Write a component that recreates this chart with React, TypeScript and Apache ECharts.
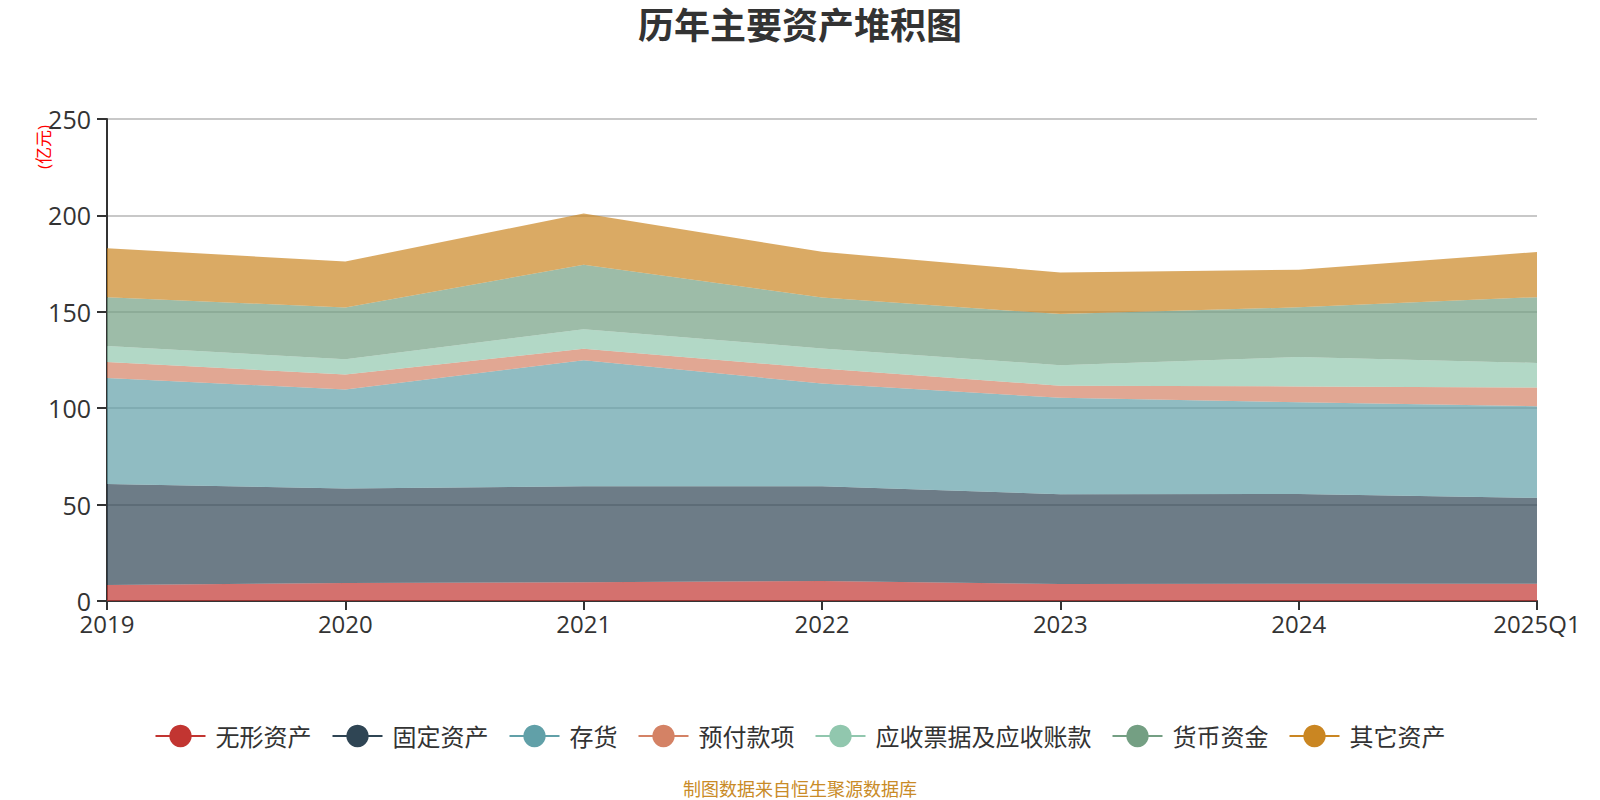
import React, { useEffect, useRef } from "react";
import * as echarts from "echarts";

const years = ["2019", "2020", "2021", "2022", "2023", "2024", "2025Q1"];
const intangible = [8.3, 9.3, 9.7, 10.4, 8.8, 9.0, 9.0];
const fixedAssets = [52.4, 49.0, 49.8, 49.1, 46.6, 46.5, 44.5];
const inventory = [55.0, 51.4, 65.4, 53.3, 50.0, 47.6, 47.5];
const prepayments = [8.3, 7.8, 5.9, 7.8, 6.2, 8.2, 9.7];
const receivables = [8.3, 7.9, 10.2, 10.4, 10.7, 15.2, 12.8];
const cash = [25.3, 26.8, 33.4, 26.4, 26.5, 25.8, 34.1];
const others = [25.4, 23.9, 26.6, 23.7, 21.6, 19.5, 23.4];

const seriesNames = ["无形资产", "固定资产", "存货", "预付款项", "应收票据及应收账款", "货币资金", "其它资产"];
const seriesData = [intangible, fixedAssets, inventory, prepayments, receivables, cash, others];
const colors = ["#c23531", "#2f4554", "#61a0a8", "#d48265", "#91c7ae", "#749f83", "#ca8622"];

const FONT = "'Open Sans', 'Noto Sans CJK SC', sans-serif";

export default function App() {
  const ref = useRef<HTMLDivElement>(null);
  useEffect(() => {
    document.body.style.margin = "0";
    if (!ref.current) return;
    const chart = echarts.init(ref.current, null, { renderer: "svg" });
    chart.setOption({
      animation: false,
      color: colors,
      textStyle: { fontFamily: FONT },
      title: {
        text: "历年主要资产堆积图",
        left: "center",
        top: 2,
        textStyle: { fontSize: 36, fontWeight: "bold", color: "#333", fontFamily: FONT },
      },
      grid: { left: 107, right: 63, top: 119, bottom: 199, containLabel: false },
      legend: {
        top: 719,
        left: "center",
        itemWidth: 50,
        itemHeight: 28,
        itemGap: 20,
        textStyle: { fontSize: 24, color: "#333", fontFamily: FONT, padding: [0, 0, 0, 5] },
        lineStyle: { width: 2, opacity: 1 },
        data: seriesNames,
      },
      xAxis: {
        type: "category",
        data: years,
        boundaryGap: false,
        axisLine: { lineStyle: { color: "#333", width: 2 } },
        axisTick: { show: true, length: 9, lineStyle: { color: "#333", width: 2 } },
        axisLabel: { fontSize: 24, color: "#333", margin: 10, fontFamily: FONT },
        splitLine: { show: false },
      },
      yAxis: {
        type: "value",
        min: 0,
        max: 250,
        interval: 50,
        axisLine: { show: true, lineStyle: { color: "#333", width: 2 } },
        axisTick: { show: true, length: 10, lineStyle: { color: "#333", width: 2 } },
        axisLabel: { fontSize: 25, color: "#333", margin: 16, fontFamily: FONT },
        splitLine: { show: true, lineStyle: { color: "#c8c8c8", width: 2 } },
      },
      graphic: [
        {
          type: "text",
          x: 35,
          y: 169,
          rotation: Math.PI / 2,
          style: { text: "(亿元)", fontSize: 17, fill: "#ff0000", fontFamily: FONT },
        },
        {
          type: "text",
          left: "center",
          top: 780,
          style: { text: "制图数据来自恒生聚源数据库", fontSize: 18, fill: "#c98b27", fontFamily: FONT },
        },
      ],
      series: seriesNames.map((name, i) => ({
        name,
        type: "line",
        stack: "total",
        data: seriesData[i],
        symbol: "circle",
        showSymbol: false,
        lineStyle: { width: 0 },
        areaStyle: { opacity: 0.7 },
      })),
    });
    return () => chart.dispose();
  }, []);
  return <div ref={ref} style={{ width: 1600, height: 800 }} />;
}
